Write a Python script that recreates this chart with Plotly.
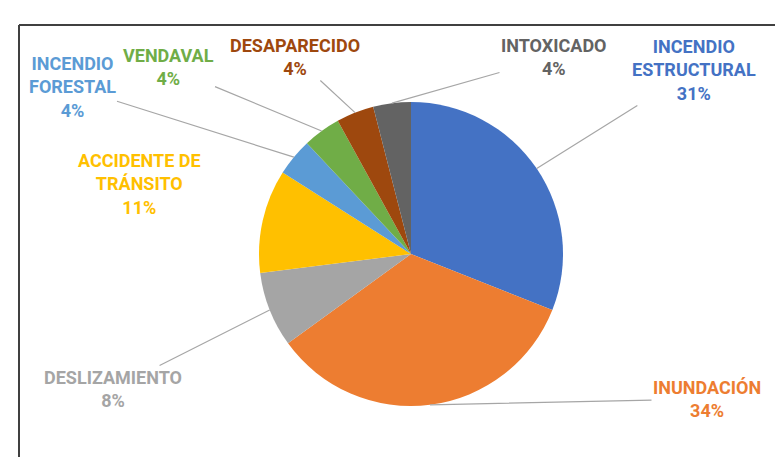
import math
import plotly.graph_objects as go

# ---- data ----
categories = ["INCENDIO ESTRUCTURAL", "INUNDACIÓN", "DESLIZAMIENTO",
              "ACCIDENTE DE TRÁNSITO", "INCENDIO FORESTAL", "VENDAVAL",
              "DESAPARECIDO", "INTOXICADO"]
label_lines = ["INCENDIO<br>ESTRUCTURAL", "INUNDACIÓN", "DESLIZAMIENTO",
               "ACCIDENTE DE<br>TRÁNSITO", "INCENDIO<br>FORESTAL", "VENDAVAL",
               "DESAPARECIDO", "INTOXICADO"]
values = [31, 34, 8, 11, 4, 4, 4, 4]
colors = ["#4472C4", "#ED7D31", "#A5A5A5", "#FFC000",
          "#5B9BD5", "#70AD47", "#9E480E", "#636363"]

# ---- layout (pixels in the 783x457 figure) ----
W, H = 783, 457
CX, CY, R = 403, 246, 152          # pie centre and radius
# label block centres and whether a leader line is drawn
label_pos = [(686, 62), (699, 391), (105, 381), (68, 176),
             (64, 79), (160, 59), (287, 49), (546, 49)]
leader = [True, True, True, False, True, True, True, True]

FONT = "Roboto, Open Sans, sans-serif"

fig = go.Figure(go.Pie(
    labels=categories,
    values=values,
    textinfo="none",
    sort=False,
    direction="clockwise",
    rotation=0,
    marker=dict(colors=colors, line=dict(width=0)),
    showlegend=False,
    domain=dict(x=[(CX - R) / W, (CX + R) / W],
                y=[1 - (CY + R) / H, 1 - (CY - R) / H]),
    hoverinfo="label+percent",
))

total = sum(values)
annotations = []
cum = 0.0
for i, v in enumerate(values):
    mid = (cum + v / 2) / total * 2 * math.pi
    cum += v
    pct = round(100 * v / total)
    txt = f"{label_lines[i]}<br>{pct}%"
    lx, ly = label_pos[i]
    font = dict(family=FONT, size=18, color=colors[i], weight="bold")
    if leader[i]:
        tx = CX + R * math.sin(mid)
        ty = CY - R * math.cos(mid)
        annotations.append(dict(
            x=tx / W, y=1 - ty / H, xref="paper", yref="paper",
            ax=lx - tx, ay=ly - ty, axref="pixel", ayref="pixel",
            text=txt, showarrow=True, arrowhead=0, arrowwidth=1.2,
            arrowcolor="#A6A6A6", font=font, align="center",
        ))
    else:
        annotations.append(dict(
            x=lx / W, y=1 - ly / H, xref="paper", yref="paper",
            text=txt, showarrow=False, font=font, align="center",
        ))

fig.update_layout(
    width=W, height=H,
    margin=dict(l=0, r=0, t=0, b=0, autoexpand=False),
    paper_bgcolor="white",
    plot_bgcolor="white",
    annotations=annotations,
    shapes=[
        dict(type="line", xref="paper", yref="paper",
             x0=11 / W, x1=1.01, y0=1 - 17 / H, y1=1 - 17 / H,
             line=dict(color="#404040", width=2)),
        dict(type="line", xref="paper", yref="paper",
             x0=11 / W, x1=11 / W, y0=-0.01, y1=1 - 17 / H,
             line=dict(color="#404040", width=2)),
    ],
)

fig.write_html("out.html")
